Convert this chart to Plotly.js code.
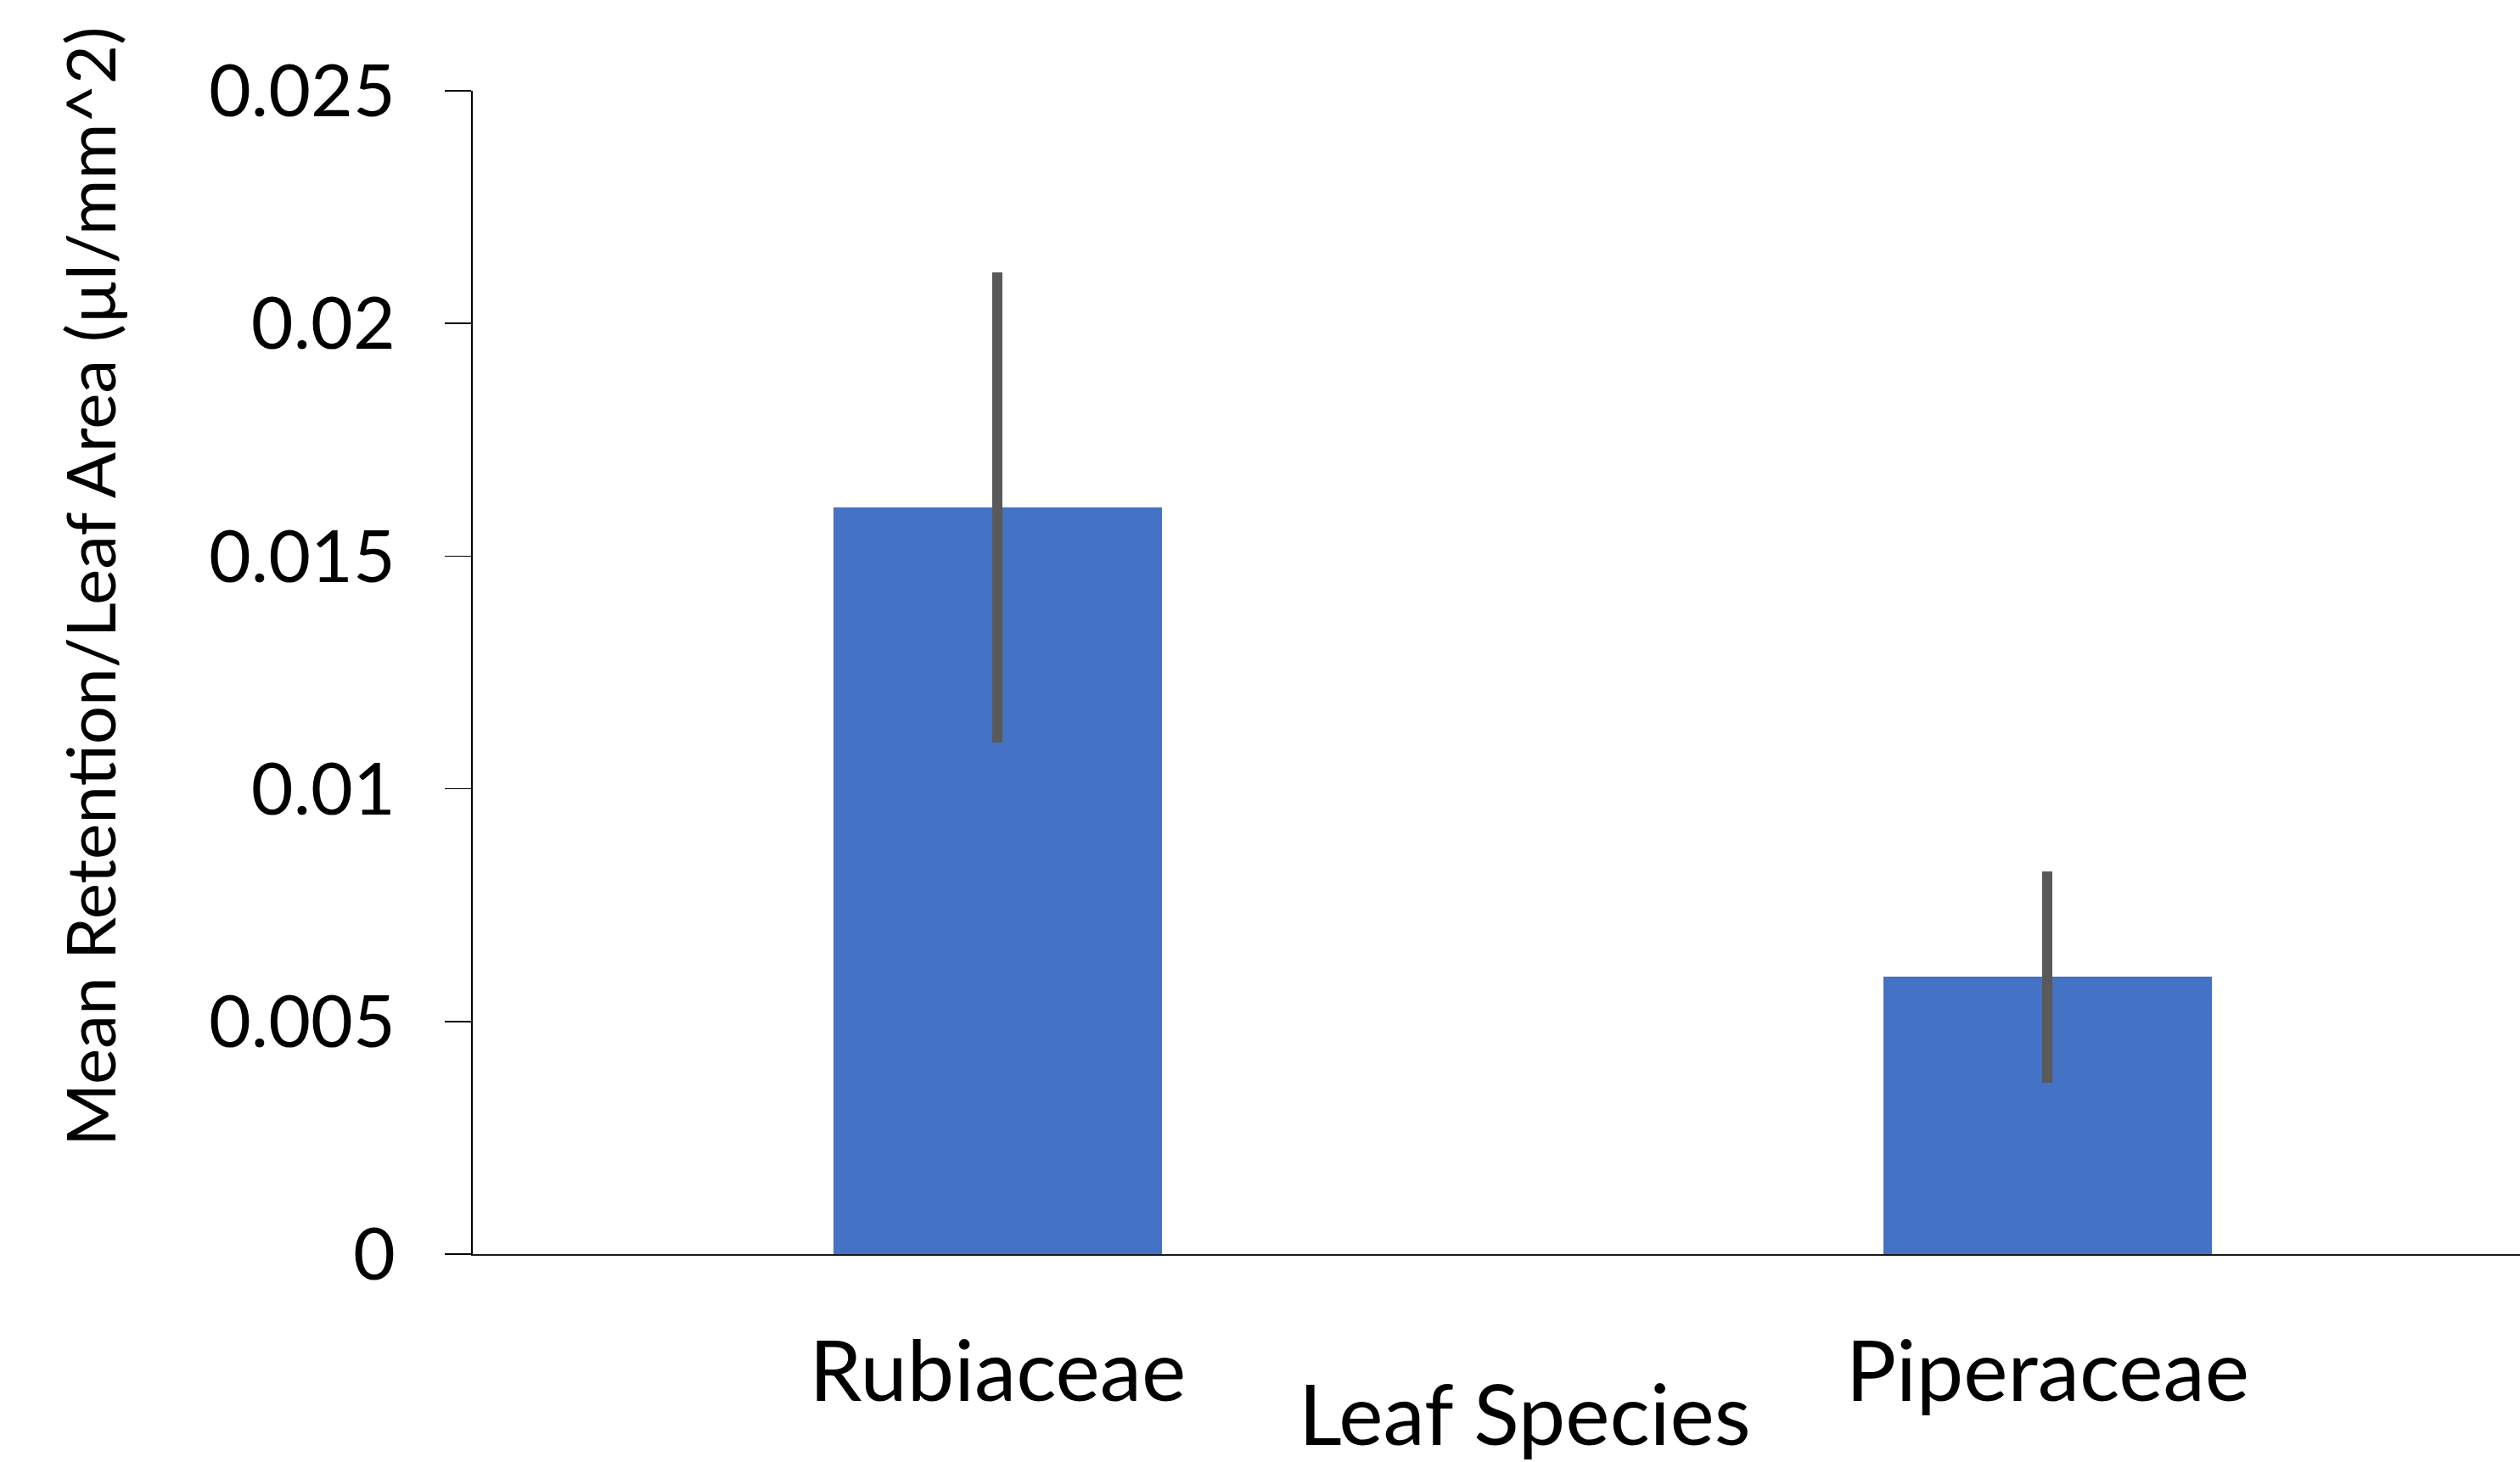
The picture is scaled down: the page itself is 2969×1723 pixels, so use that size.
<!DOCTYPE html>
<html>
<head>
<meta charset="utf-8">
<script src="https://cdn.plot.ly/plotly-3.0.1.min.js"></script>
<style>
html, body { margin: 0; padding: 0; background: #ffffff; overflow: hidden; }
#chart { width: 2969px; height: 1723px; }
</style>
</head>
<body>
<div id="chart"></div>
<script>
// ---- data ----
var categories = ["Rubiaceae", "Piperaceae"];
var meanRetention = [0.01605, 0.00596];
var errorValues = [0.00505, 0.00227];
var yTickVals = [0, 0.005, 0.01, 0.015, 0.02, 0.025];
var yTickText = ["0", "0.005", "0.01", "0.015", "0.02", "0.025"];
var xTitle = "Leaf Species";
var yTitle = "Mean Retention/Leaf Area (µl/mm^2)";

var FONT = "Lato, 'Open Sans', sans-serif";

var trace = {
  type: "bar",
  x: categories,
  y: meanRetention,
  width: 0.313,
  marker: { color: "#4472C4", line: { width: 0 } },
  error_y: {
    type: "data",
    array: errorValues,
    visible: true,
    color: "#595959",
    thickness: 12,
    width: 0
  },
  hoverinfo: "none"
};

var layout = {
  width: 2969,
  height: 1723,
  margin: { l: 557, r: 0, t: 107, b: 245, pad: 0 },
  paper_bgcolor: "#ffffff",
  plot_bgcolor: "#ffffff",
  showlegend: false,
  bargap: 0,
  xaxis: {
    type: "category",
    range: [-0.5, 1.45],
    showgrid: false,
    zeroline: false,
    showline: true,
    linecolor: "#1a1a1a",
    linewidth: 2,
    ticks: "",
    ticklabelstandoff: 52,
    tickfont: { family: FONT, size: 99, color: "#000000" },
    fixedrange: true
  },
  yaxis: {
    range: [0, 0.025],
    tickmode: "array",
    tickvals: yTickVals,
    ticktext: yTickText,
    showgrid: false,
    zeroline: false,
    showline: true,
    linecolor: "#000000",
    linewidth: 2,
    ticks: "outside",
    ticklen: 31,
    tickwidth: 1.5,
    tickcolor: "#000000",
    ticklabelstandoff: 41,
    tickfont: { family: FONT, size: 86, color: "#000000" },
    fixedrange: true
  },
  annotations: [
    {
      text: xTitle,
      xref: "paper", yref: "paper",
      x: 0.514, y: -0.1361,
      xanchor: "center", yanchor: "middle",
      showarrow: false,
      font: { family: FONT, size: 99, color: "#000000" }
    },
    {
      text: yTitle,
      xref: "paper", yref: "paper",
      x: -0.1874, y: 0.574,
      xanchor: "center", yanchor: "middle",
      textangle: -90,
      showarrow: false,
      font: { family: FONT, size: 80, color: "#000000" }
    }
  ]
};

Plotly.newPlot("chart", [trace], layout, { staticPlot: true, displayModeBar: false });
</script>
</body>
</html>
